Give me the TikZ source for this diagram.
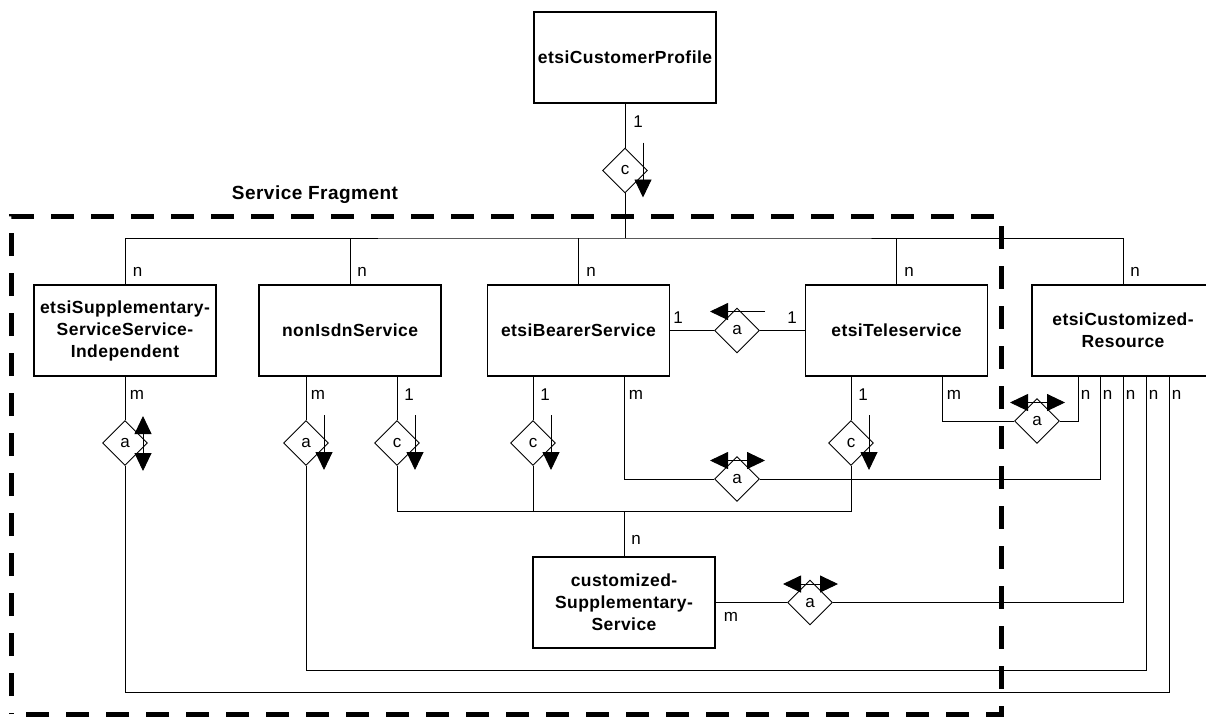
\documentclass[tikz,border=0pt]{standalone}
\usepackage{fontspec}
\setmainfont{Liberation Sans}
\newfontfamily\boxfont[LetterSpace=2.5]{Liberation Sans}
\usetikzlibrary{shapes.geometric,arrows.meta}

\begin{document}
\begin{tikzpicture}[x=1pt,y=-1pt,
  entity/.style={draw, line width=1.1pt, minimum width=182pt, minimum height=91pt,
    inner sep=0pt, align=center, fill=white,
    font=\boxfont\bfseries\fontsize{17.5}{22}\selectfont},
  rel/.style={draw, shape=diamond, line width=0.9pt, minimum width=45pt,
    minimum height=45pt, inner sep=0pt, fill=white, font=\fontsize{17}{20}\selectfont},
  link/.style={line width=0.9pt},
  lbl/.style={inner sep=0pt, font=\fontsize{17}{20}\selectfont},
  dirarrow/.style={line width=0.9pt, -{Triangle[length=18pt,width=17pt]}},
  bidir/.style={line width=0.9pt,
    {Triangle[length=18pt,width=17pt]}-{Triangle[length=18pt,width=17pt]}},
  fragment/.style={line width=5pt, dash pattern=on 23pt off 17pt, dash phase=22pt},
]
\useasboundingbox (0,0) rectangle (1206,718);

% entities
\node[entity] (P)  at (625,57.5)   {etsiCustomerProfile};
\node[entity] (S1) at (125,330.5)  {etsiSupplementary-\\ServiceService-\\Independent};
\node[entity] (N)  at (350,330.5)  {nonIsdnService};
\node[entity] (B)  at (578.5,330.5){etsiBearerService};
\node[entity] (T)  at (896.5,330.5){etsiTeleservice};
\node[entity] (R)  at (1123,330.5) {etsiCustomized-\\Resource};
\node[entity] (C)  at (624,602.5)  {customized-\\Supplementary-\\Service};

% relationships
\node[rel] (dP)  at (625,170.5) {c};
\node[rel] (dS)  at (125,443)   {a};
\node[rel] (dNa) at (306,443)   {a};
\node[rel] (dNc) at (397,443)   {c};
\node[rel] (dBc) at (533,443)   {c};
\node[rel] (dTc) at (851,443)   {c};
\node[rel] (dBT) at (737,330.5) {a};
\node[rel] (dBa) at (737,479)   {a};
\node[rel] (dTa) at (1037,421)  {a};
\node[rel] (dCa) at (810,602.5) {a};

% junction points
\coordinate (bus)  at (625,238);
\coordinate (lbus) at (624,511);
\coordinate (r1) at (1078,376);
\coordinate (r2) at (1100,376);
\coordinate (r4) at (1146,376);
\coordinate (r5) at (1169,376);
\coordinate (k4) at (1146,670);
\coordinate (k5) at (1169,692);

% profile to the services
\draw[link] (P) -- (dP);
\draw[link] (dP) -- (bus);
\draw[link] (S1.north) |- (bus) -| (R.north);
\draw[link] (N) -- (N.north |- bus);
\draw[link] (B) -- (B.north |- bus);
\draw[link] (T) -- (T.north |- bus);

% service independent
\draw[link] (S1) -- (dS);
\draw[link] (dS) |- (k5) -- (r5);

% non ISDN service
\draw[link] (dNa) -- (dNa |- N.south);
\draw[link] (dNa) |- (k4) -- (r4);
\draw[link] (dNc) -- (dNc |- N.south);
\draw[link] (dNc) |- (lbus) -| (dTc);

% bearer and teleservice
\draw[link] (dBc) -- (dBc |- B.south);
\draw[link] (dBc) -- (dBc |- lbus);
\draw[link] (dTc) -- (dTc |- T.south);
\draw[link] (lbus) -- (C);
\draw[link] ([xshift=45.5pt]B.south) |- (dBa);
\draw[link] (dBa) -| (r2);
\draw[link] ([xshift=45.5pt]T.south) |- (dTa);
\draw[link] (dTa) -| (r1);
\draw[link] (B) -- (dBT);
\draw[link] (dBT) -- (T);

% customized supplementary service
\draw[link] (C) -- (dCa);
\draw[link] (dCa) -| (R.south);

% reading direction arrows
\draw[dirarrow] ([shift={(18,-28)}]dP.center)  -- ([shift={(18,27)}]dP.center);
\draw[dirarrow] ([shift={(18,-28)}]dNa.center) -- ([shift={(18,27)}]dNa.center);
\draw[dirarrow] ([shift={(18,-28)}]dNc.center) -- ([shift={(18,27)}]dNc.center);
\draw[dirarrow] ([shift={(18,-28)}]dBc.center) -- ([shift={(18,27)}]dBc.center);
\draw[dirarrow] ([shift={(18,-28)}]dTc.center) -- ([shift={(18,27)}]dTc.center);
\draw[bidir]    ([shift={(18,-27)}]dS.center)  -- ([shift={(18,28)}]dS.center);
\draw[dirarrow] ([shift={(28,-19)}]dBT.center) -- ([shift={(-27,-19)}]dBT.center);
\draw[bidir]    ([shift={(-27,-18.5)}]dBa.center) -- ([shift={(28,-18.5)}]dBa.center);
\draw[bidir]    ([shift={(-27,-18.5)}]dTa.center) -- ([shift={(28,-18.5)}]dTa.center);
\draw[bidir]    ([shift={(-27,-18.5)}]dCa.center) -- ([shift={(28,-18.5)}]dCa.center);

% cardinalities
\node[lbl] (l0) at (638,122) {1};
\node[lbl] (l1) at (137.5,272) {n};
\node[lbl] (l2) at (362,272) {n};
\node[lbl] (l3) at (591,272) {n};
\node[lbl] (l4) at (909,272) {n};
\node[lbl] (l5) at (1135,272) {n};
\node[lbl] (l6) at (137,395) {m};
\node[lbl] (l7) at (318,395) {m};
\node[lbl] (l8) at (409,395) {1};
\node[lbl] (l9) at (545,395) {1};
\node[lbl] (l10) at (636,395) {m};
\node[lbl] (l11) at (863,395) {1};
\node[lbl] (l12) at (954,395) {m};
\node[lbl] (l13) at (1085.5,395) {n};
\node[lbl] (l14) at (1107.5,395) {n};
\node[lbl] (l15) at (1130.5,395) {n};
\node[lbl] (l16) at (1153.5,395) {n};
\node[lbl] (l17) at (1176.5,395) {n};
\node[lbl] (l18) at (678,318) {1};
\node[lbl] (l19) at (792,318) {1};
\node[lbl] (l20) at (636,540) {n};
\node[lbl] (l21) at (731,617) {m};

% service fragment boundary
\node[inner sep=0pt, font=\boxfont\bfseries\fontsize{19}{22}\selectfont] (sf) at (315,195) {Service Fragment};
\draw[fragment] (11,714) -- (11,216) -- (1001,216) -- (1001,714) -- cycle;
\end{tikzpicture}
\end{document}
